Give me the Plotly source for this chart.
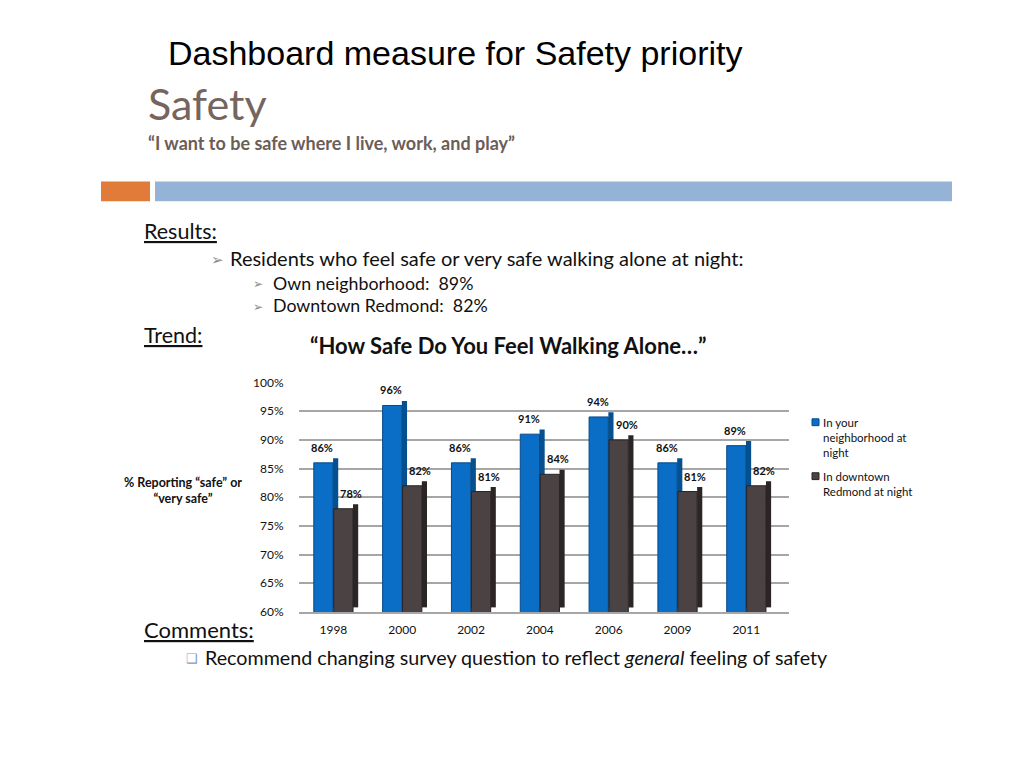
import plotly.graph_objects as go

years = ["1998", "2000", "2002", "2004", "2006", "2009", "2011"]
neighborhood = [86, 96, 86, 91, 94, 86, 89]
downtown = [78, 82, 81, 84, 90, 81, 82]
series_names = ["In your<br>neighborhood at<br>night", "In downtown<br>Redmond at night"]
y_ticks = [60, 65, 70, 75, 80, 85, 90, 95, 100]
y_tick_text = [f"{v}%" for v in y_ticks]

front_colors = ["#0a6dc6", "#4a4243"]
side_colors = ["#07508f", "#2b2526"]
edge_colors = ["#064a88", "#2a2425"]

W, H = 1024, 768
FONT = "Lato"
DEPTH = 0.8  # visual depth of the pseudo-3D side face, in axis units
FRONT_W = 0.28
SIDE_W = 0.075
FLOOR = 60


def px(x):
    return x / W


def py(y):
    return 1 - y / H


fig = go.Figure()
series = [(neighborhood, series_names[0], -0.285, 0, -1), (downtown, series_names[1], 0.005, 1, 8)]
for vals, name, off, i, lab_shift in series:
    # side face (drawn first, behind the front faces)
    fig.add_trace(go.Bar(
        x=years, y=[v - FLOOR for v in vals], base=FLOOR + DEPTH,
        offset=off + FRONT_W, width=SIDE_W,
        marker=dict(color=side_colors[i], line=dict(width=0)),
        hoverinfo="skip", showlegend=False,
    ))
    # front face
    fig.add_trace(go.Bar(
        x=years, y=vals, name=name, offset=off, width=FRONT_W,
        marker=dict(color=front_colors[i], line=dict(color=edge_colors[i], width=1)),
        cliponaxis=False, showlegend=False,
    ))
    # value labels, placed via the axes from the data (x = category index)
    for k, v in enumerate(vals):
        fig.add_annotation(
            x=k + off + FRONT_W / 2, y=v, xref="x", yref="y", text=f"{v}%", showarrow=False,
            xanchor="center", yanchor="bottom", xshift=lab_shift, yshift=7,
            font=dict(family=FONT, size=11, color="#111111", weight="bold"),
        )

fig.update_layout(
    width=W, height=H,
    margin=dict(l=0, r=0, t=0, b=0),
    paper_bgcolor="white", plot_bgcolor="white",
    barmode="overlay",
    font=dict(family=FONT, color="#111111"),
    showlegend=False,
    xaxis=dict(
        domain=[px(299), px(789)], type="category", range=[-0.5, 6.62],
        showgrid=False, showline=True, linecolor="#a6a6a6", linewidth=2,
        ticks="outside", ticklen=6, tickcolor="rgba(0,0,0,0)",
        tickfont=dict(family=FONT, size=12, color="#111111"),
        anchor="y",
    ),
    yaxis=dict(
        domain=[py(616), py(382)], range=[60, 100],
        tickvals=y_ticks, ticktext=y_tick_text,
        showgrid=True, gridcolor="#a6a6a6", gridwidth=2,
        zeroline=False, showline=False,
        ticks="outside", ticklen=12, tickcolor="rgba(0,0,0,0)",
        tickfont=dict(family=FONT, size=12, color="#111111"),
    ),
)

shapes = [
    dict(type="rect", xref="paper", yref="paper",
         x0=px(101), x1=px(150), y0=py(197), y1=py(177),
         fillcolor="#e07b39", line=dict(width=0)),
    dict(type="rect", xref="paper", yref="paper",
         x0=px(155), x1=px(952), y0=py(197), y1=py(177),
         fillcolor="#95b3d7", line=dict(width=0)),
    # legend swatches
    dict(type="rect", xref="paper", yref="paper",
         x0=px(812), x1=px(819), y0=py(426), y1=py(419),
         fillcolor=front_colors[0], line=dict(width=1, color=edge_colors[0])),
    dict(type="rect", xref="paper", yref="paper",
         x0=px(812), x1=px(819), y0=py(481), y1=py(474),
         fillcolor=front_colors[1], line=dict(width=1, color=edge_colors[1])),
]
fig.update_layout(shapes=shapes)


def note(text, x, y, size, color="#111111", family=FONT, xanchor="left", align="left",
         yanchor="middle", **kw):
    fig.add_annotation(text=text, x=px(x), y=py(y), xref="paper", yref="paper",
                       xanchor=xanchor, yanchor=yanchor, align=align, showarrow=False,
                       font=dict(family=family, size=size, color=color, **kw))


note("Dashboard measure for Safety priority", 166, 46, 34, family="Liberation Sans", color="#000000")
note("Safety", 146, 97, 43, color="#76655e")
note("“I want to be safe where I live, work, and play”", 146, 138, 18, color="#6b5d57", weight="bold")
note("<u>Results:</u>", 142, 227, 21.5)
note("➢", 209, 256, 15, color="#8c8c8c")
note("Residents who feel safe or very safe walking alone at night:", 228, 255, 20)
note("➢", 251, 281, 12, color="#8c8c8c")
note("Own neighborhood:  89%", 271, 280, 17.8)
note("➢", 251, 304, 12, color="#8c8c8c")
note("Downtown Redmond:  82%", 271, 303, 17.8)
note("<u>Trend:</u>", 142, 334, 21.5)
note("“How Safe Do You Feel Walking Alone…”", 508, 344, 22, xanchor="center", weight="bold")
note("% Reporting “safe” or<br>“very safe”", 183, 492, 12.5, xanchor="center", align="center", weight="bold")
note(series_names[0], 821, 414, 11.5, yanchor="top")
note(series_names[1], 821, 469, 11.5, yanchor="top")
note("<u>Comments:</u>", 142, 634, 22)
note("❑", 184, 663, 13, color="#7f9cc0")
note("Recommend changing survey question to reflect <i>general</i> feeling of safety", 203, 662, 19.7)

fig.write_html("out.html", post_script="document.body.style.margin='0';",
               config={"displayModeBar": False})
